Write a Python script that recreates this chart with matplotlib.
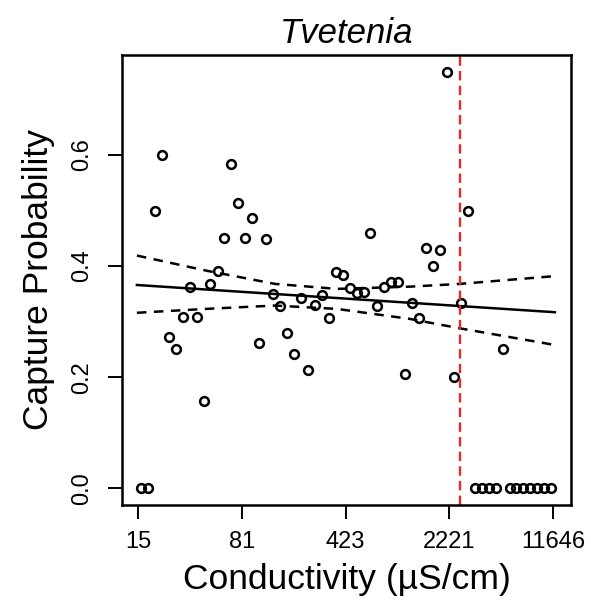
import matplotlib
matplotlib.use('Agg')
import matplotlib.pyplot as plt

plt.rcParams['font.family'] = ['Liberation Sans', 'DejaVu Sans']

# conductivity (uS/cm) of each site
conductivity = [16.1, 18.0, 20.1, 22.5, 25.1, 28.1, 31.4, 35.1, 39.2, 43.8,
                48.9, 54.7, 61.1, 68.3, 76.3, 85.3, 95.3, 106.5, 119.0, 133.0,
                148.6, 166.0, 185.5, 207.3, 231.8, 259.0, 289.4, 323.3, 361.3, 403.8,
                451.1, 504.1, 563.3, 629.6, 703.4, 786.0, 878.3, 981.5, 1096.7, 1225.5,
                1369.4, 1530.2, 1710.0, 1910.8, 2135.1, 2385.8, 2666, 2979, 3329, 3720,
                4157, 4645, 5190, 5800, 6481, 7242, 8092, 9042, 10104, 11290]
capture_prob = [0.0, 0.0, 0.50, 0.60, 0.273, 0.25, 0.308, 0.363, 0.308, 0.158,
                0.368, 0.392, 0.451, 0.583, 0.513, 0.45, 0.487, 0.262, 0.448, 0.35,
                0.329, 0.279, 0.241, 0.342, 0.213, 0.330, 0.348, 0.306, 0.390, 0.384,
                0.361, 0.352, 0.353, 0.459, 0.329, 0.363, 0.371, 0.371, 0.206, 0.334,
                0.307, 0.432, 0.400, 0.429, 0.750, 0.200, 0.334, 0.500, 0.0, 0.0,
                0.0, 0.0, 0.250, 0.0, 0.0, 0.0, 0.0, 0.0, 0.0, 0.0]

# fitted line and confidence band
fit_x = [15.1, 11970]
fit_y = [0.366, 0.317]
band_x = [15.1, 45.4, 136.7, 367.6, 1179, 2623, 11970]
band_upper = [0.419, 0.392, 0.368, 0.359, 0.363, 0.368, 0.382]
band_lower = [0.316, 0.323, 0.329, 0.323, 0.305, 0.288, 0.258]

threshold = 2640

xticks = [15.4, 81, 423, 2221, 11646]
xtick_labels = ['15', '81', '423', '2221', '11646']
yticks = [0.0, 0.2, 0.4, 0.6]
ytick_labels = ['0.0', '0.2', '0.4', '0.6']

fig = plt.figure(figsize=(5.91, 6.01), dpi=100)
ax = fig.add_axes([122 / 591, 1 - 505 / 601, 449 / 591, 450 / 601])

ax.plot(conductivity, capture_prob, 'o', mfc='none', mec='black', ms=6.3, mew=1.8)
ax.plot(fit_x, fit_y, color='black', lw=1.8)
ax.plot(band_x, band_upper, color='black', lw=1.8, ls=(0, (3.8, 3.0)))
ax.plot(band_x, band_lower, color='black', lw=1.8, ls=(0, (3.8, 3.0)))
ax.axvline(threshold, color='#e8292c', lw=1.7, ls=(0, (4.0, 2.2)))

ax.set_xscale('log')
ax.set_xlim(11.9, 15480)
ax.set_ylim(-0.03, 0.78)
ax.minorticks_off()
ax.set_xticks(xticks)
ax.set_xticklabels(xtick_labels, fontsize=17)
ax.set_yticks(yticks)
ax.set_yticklabels(ytick_labels, rotation=90, va='center', fontsize=17)

ax.tick_params(axis='both', length=10, width=1.4, color='black')
ax.tick_params(axis='x', pad=9)
ax.tick_params(axis='y', pad=11)
for s in ax.spines.values():
    s.set_linewidth(1.8)

ax.set_xlabel('Conductivity (µS/cm)', fontsize=25.5)
ax.xaxis.set_label_coords(0.5, (505 - 580) / 450)
ax.xaxis.label.set_va('center')
ax.set_ylabel('Capture Probability', fontsize=25.5)
ax.yaxis.set_label_coords((39 - 122) / 449, 0.5)
ax.yaxis.label.set_va('center')
ax.set_title('Tvetenia', fontsize=25, style='italic', pad=8.6)

fig.savefig('out.png', dpi=100)
